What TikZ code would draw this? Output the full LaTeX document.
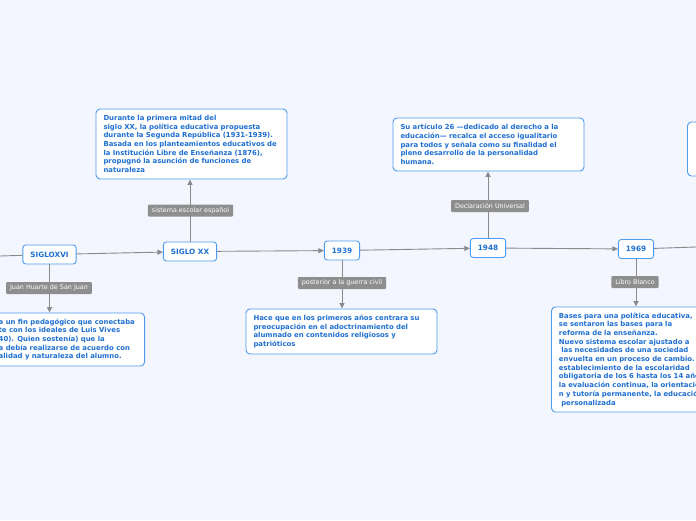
\documentclass[tikz,border=0pt]{standalone}
\usepackage{fontspec}
\setmainfont{DejaVu Sans}
\usetikzlibrary{arrows.meta}
\definecolor{bg}{HTML}{F3F6FE}
\definecolor{bordblue}{HTML}{4C9BEF}
\definecolor{txtblue}{HTML}{1E6FD2}
\definecolor{labgray}{HTML}{8E8E8E}
\definecolor{linegray}{HTML}{8A8A8A}
\begin{document}
\begin{tikzpicture}[x=1pt,y=-1pt,
  topic/.style={draw=bordblue,line width=0.9pt,fill=white,rounded corners=3pt,
    text=txtblue,font=\fontsize{7.3}{8}\selectfont\bfseries,inner xsep=7.5pt,inner ysep=0pt,minimum height=19pt},
  note/.style={draw=bordblue,line width=0.9pt,fill=white,rounded corners=4pt,
    text=txtblue,font=\fontsize{6.9}{8.7}\selectfont\bfseries,inner xsep=7.5pt,inner ysep=0pt,align=left},
  notetext/.style={text=txtblue,font=\fontsize{6.9}{8.7}\selectfont\bfseries,inner sep=0pt,align=left},
  lab/.style={fill=labgray,text=white,font=\fontsize{6.4}{7}\selectfont,inner xsep=4pt,inner ysep=0pt,
    minimum height=12pt,rounded corners=1pt},
  conn/.style={draw=linegray,line width=0.9pt},
  arr/.style={conn,-{Triangle[length=5.5pt,width=5pt]}}
]
\fill[bg] (0,0) rectangle (696,520);
\useasboundingbox (0,0) rectangle (696,520);
\clip (0,0) rectangle (696,520);

% main topics
\node[topic] (sxvi) at (49.5,254.5) {SIGLOXVI};
\node[topic] (sxx) at (190,251.5) {SIGLO XX};
\node[topic] (s1939) at (342,250.5) {1939};
\node[topic] (s1948) at (488,248) {1948};
\node[topic] (s1969) at (636,249) {1969};
\coordinate (lend) at (0,256);
\coordinate (rend) at (696,247);

% notes
\node[note,text width=176pt,minimum height=70pt] (box1) at (191.5,144) {Durante la primera mitad del\\
siglo XX, la política educativa propuesta\\
durante la Segunda República (1931-1939).\\
Basada en los planteamientos educativos de\\
la Institución Libre de Enseñanza (1876),\\
propugnó la asunción de funciones de\\
naturaleza};

\node[note,text width=176pt,minimum height=53pt] (box2) at (488.5,144.5) {Su artículo 26 —dedicado al derecho a la\\
educación— recalca el acceso igualitario\\
para todos y señala como su finalidad el\\
pleno desarrollo de la personalidad\\
humana.};

\node[note,text width=176pt,minimum height=45pt] (box3) at (341.5,331.5) {Hace que en los primeros años centrara su\\
preocupación en el adoctrinamiento del\\
alumnado en contenidos religiosos y\\
patrióticos};

\node[note,text width=195pt,minimum height=105pt,anchor=west] (box4) at (551,359.5) {Bases para una política educativa,\\
se sentaron las bases para la\\
reforma de la enseñanza.\\
Nuevo sistema escolar ajustado a\\
\ las necesidades de una sociedad\\
envuelta en un proceso de cambio.\\
establecimiento de la escolaridad\\
obligatoria de los 6 hasta los 14 años\\
la evaluación continua, la orientació\\
n y tutoría permanente, la educació\\
\ personalizada};

\node[note,minimum width=205pt,minimum height=53pt,anchor=east] (box0) at (145,339.5) {};
\node[notetext,anchor=west] (box0text) at (-1.5,339.5) {a un fin pedagógico que conectaba\\
te con los ideales de Luis Vives\\
40). Quien sostenía) que la\\
a debía realizarse de acuerdo con\\
alidad y naturaleza del alumno.};

\node[note,minimum width=60pt,minimum height=54pt,anchor=west] (box5) at (687,149) {};

% connectors
\draw[conn] (lend) -- (sxvi);
\draw[arr] (sxvi) -- (sxx);
\draw[arr] (sxx) -- (s1939);
\draw[arr] (s1939) -- (s1948);
\draw[arr] (s1948) -- (s1969);
\draw[conn] (s1969) -- (rend);

\draw[arr] (sxvi.south) -- (sxvi.south |- box0.north);
\draw[arr] (sxx.north) -- (sxx.north |- box1.south);
\draw[arr] (s1939.south) -- (s1939.south |- box3.north);
\draw[arr] (s1948.north) -- (s1948.north |- box2.south);
\draw[arr] (s1969.south) -- (s1969.south |- box4.north);

% labels
\node[lab] (l1) at (190.5,210.5) {sistema escolar español};
\node[lab] (l0) at (49,288) {Juan Huarte de San Juan};
\node[lab] (l2) at (342,283) {posterior a la guerra civil};
\node[lab] (l3) at (490,206) {Declaración Universal};
\node[lab] (l4) at (635,282) {Libro Blanco};
\end{tikzpicture}
\end{document}
